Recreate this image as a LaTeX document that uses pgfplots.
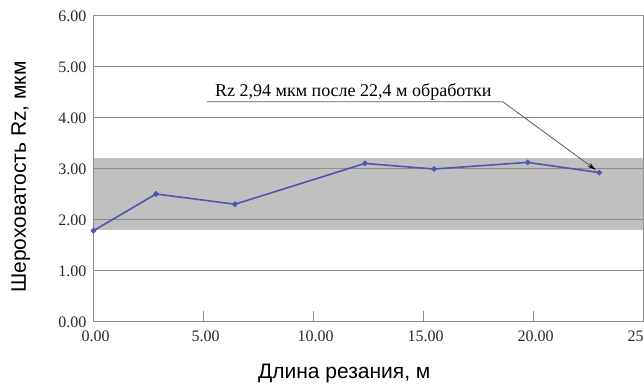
\documentclass[border=0pt]{standalone}
\usepackage{fontspec}
\setmainfont{Liberation Serif}
\newfontfamily\arialfont{Liberation Sans}
\usepackage{pgfplots}
\pgfplotsset{compat=1.18}
\usetikzlibrary{arrows.meta}
\definecolor{bandgray}{RGB}{192,192,192}
\definecolor{gridgray}{RGB}{140,140,140}
\definecolor{lineblue}{RGB}{80,85,175}
\definecolor{annogray}{RGB}{90,90,90}
\definecolor{labgray}{RGB}{40,40,40}
\begin{document}
\begin{tikzpicture}
\begin{axis}[name=ax, set layers,
  width=550pt, height=306pt, scale only axis,
  xmin=0, xmax=25, ymin=0, ymax=6,
  xtick={0,5,...,25}, ytick={0,1,...,6},
  xtick pos=bottom, ytick pos=left,
  ymajorgrids, grid style={gridgray, line width=0.8pt},
  axis line style={gridgray, line width=0.8pt},
  tick align=inside, major tick length=10pt,
  ytick style={draw=none}, xtick style={gridgray, line width=0.8pt},
  ticklabel style={font=\fontsize{16}{18}\selectfont, text=labgray},
  xticklabel style={yshift=-6pt, xshift=2pt},
  yticklabel style={xshift=-3.5pt, yshift=-1.5pt},
  /pgf/number format/.cd, fixed, fixed zerofill, precision=2, 1000 sep={}, assume math mode=true,
  /pgfplots/.cd,
  xlabel={\arialfont Длина резания, м},
  ylabel={\arialfont Шероховатость Rz, мкм},
  xlabel style={font=\fontsize{21}{24}\selectfont, at={(axis description cs:0.456,-0.17)}, anchor=center},
  ylabel style={font=\fontsize{21}{24}\selectfont, at={(axis description cs:-0.132,0.47)}, anchor=center, rotate=0},
]
\addplot[draw=none, fill=bandgray, on layer=axis background, forget plot] coordinates {(0,1.78) (25,1.78) (25,3.2) (0,3.2)};
\addplot[lineblue, line width=1.6pt, mark=*, mark size=1.9pt, mark options={fill=lineblue}] coordinates {
(0,1.77) (2.84,2.49) (6.43,2.29) (12.34,3.09) (15.48,2.98) (19.74,3.11) (22.99,2.91)};
\draw[annogray, line width=0.8pt, -{Stealth[length=9pt,width=4.5pt,black]}] (axis cs:5.15,4.3) -- (axis cs:18.6,4.3) -- (axis cs:22.84,2.96);
\node[anchor=base west, inner sep=0pt, font=\fontsize{18}{20}\selectfont] at (axis cs:5.52,4.4) {Rz 2,94 мкм после 22,4 м обработки};
\end{axis}
\pgfresetboundingbox
\path[use as bounding box] ([shift={(-93.5pt,-66pt)}]ax.south west) rectangle ([shift={(0.5pt,15pt)}]ax.north east);
\end{tikzpicture}
\end{document}
